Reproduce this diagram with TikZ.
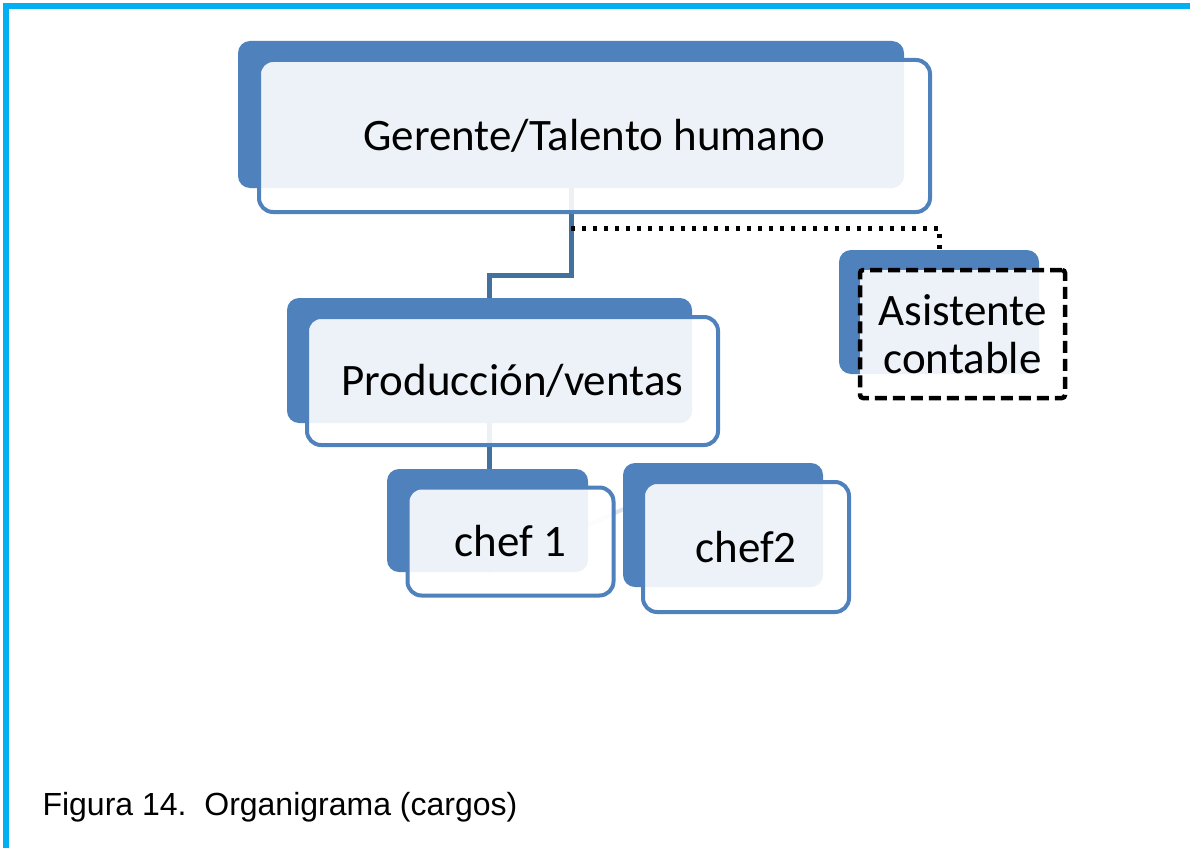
\documentclass[tikz,border=0pt]{standalone}
\usepackage{fontspec}
\setmainfont{Carlito}
\newfontfamily\capfont{Liberation Sans}
\usetikzlibrary{backgrounds}
\definecolor{boxblue}{HTML}{4F81BD}
\definecolor{linkblue}{HTML}{41719C}
\definecolor{ghostblue}{HTML}{DCE4EF}
\definecolor{framecyan}{HTML}{00B0F0}
\tikzstyle{back} = [rectangle, rounded corners = 12pt, inner sep = 0pt, fill = boxblue]
\tikzstyle{front} = [rectangle, rounded corners = 14pt, inner sep = 0pt, draw = boxblue,
line width = 4pt, fill = white, fill opacity = 0.9, text opacity = 1, align = center,
font = \fontsize{45}{48}\selectfont]
\tikzstyle{extra} = [front, draw = black, line width = 4.5pt, dash pattern = on 12pt off 6pt,
rounded corners = 3pt]
\tikzstyle{link} = [line width = 5pt, draw = linkblue]
\tikzstyle{ghost} = [line width = 4pt, draw = ghostblue]
\tikzstyle{dots} = [line width = 5pt, dash pattern = on 4pt off 7pt]

\begin{document}
\begin{tikzpicture}[x = 1pt, y = -1pt]

    \useasboundingbox (0,0) rectangle (1190,848);
    \draw[framecyan, line width = 5.5pt] (6,848) -- (6,6) -- (1190,6);

    \node (gerenteb) [back, minimum width = 666pt, minimum height = 147pt] at (571,114.5) {};
    \node (produccionb) [back, minimum width = 405pt, minimum height = 125pt] at (489.5,360.5) {};
    \node (asistenteb) [back, minimum width = 200pt, minimum height = 124pt] at (939,312) {};
    \node (chef1b) [back, minimum width = 201pt, minimum height = 103pt] at (487.5,520.5) {};
    \node (chef2b) [back, minimum width = 200pt, minimum height = 124pt] at (723,525) {};

    \node (gerente) [front, minimum width = 671pt, minimum height = 152pt] at (594.5,136) {Gerente/Talento humano};
    \node (produccion) [front, minimum width = 411pt, minimum height = 128pt] at (512.5,381) {Producción/ventas};
    \node (asistente) [extra, minimum width = 205pt, minimum height = 128pt] at (962.5,334) {Asistente\\contable};
    \node (chef1) [front, minimum width = 206pt, minimum height = 108pt] at (510.5,541.5) {chef 1};
    \node (chef2) [front, minimum width = 206pt, minimum height = 130pt] at (746,547) {chef2};

    \node (caption) [anchor = base west, font = \capfont\fontsize{32}{36}\selectfont] at (39,815) {Figura 14.\ \ Organigrama (cargos)};

    \begin{scope}[on background layer]
    \draw[link] (gerenteb.south) -- ++(0,87) -| (produccionb.north);
    \draw[dots] (gerenteb.south) ++(0,40) -| (asistenteb.north);
    \draw[link] (produccionb.south) -- (produccionb.south |- chef1b.north);
    \draw[ghost, shorten >= 14pt] (chef1b.south) -- (chef2b.north);
    \end{scope}

\end{tikzpicture}
\end{document}
